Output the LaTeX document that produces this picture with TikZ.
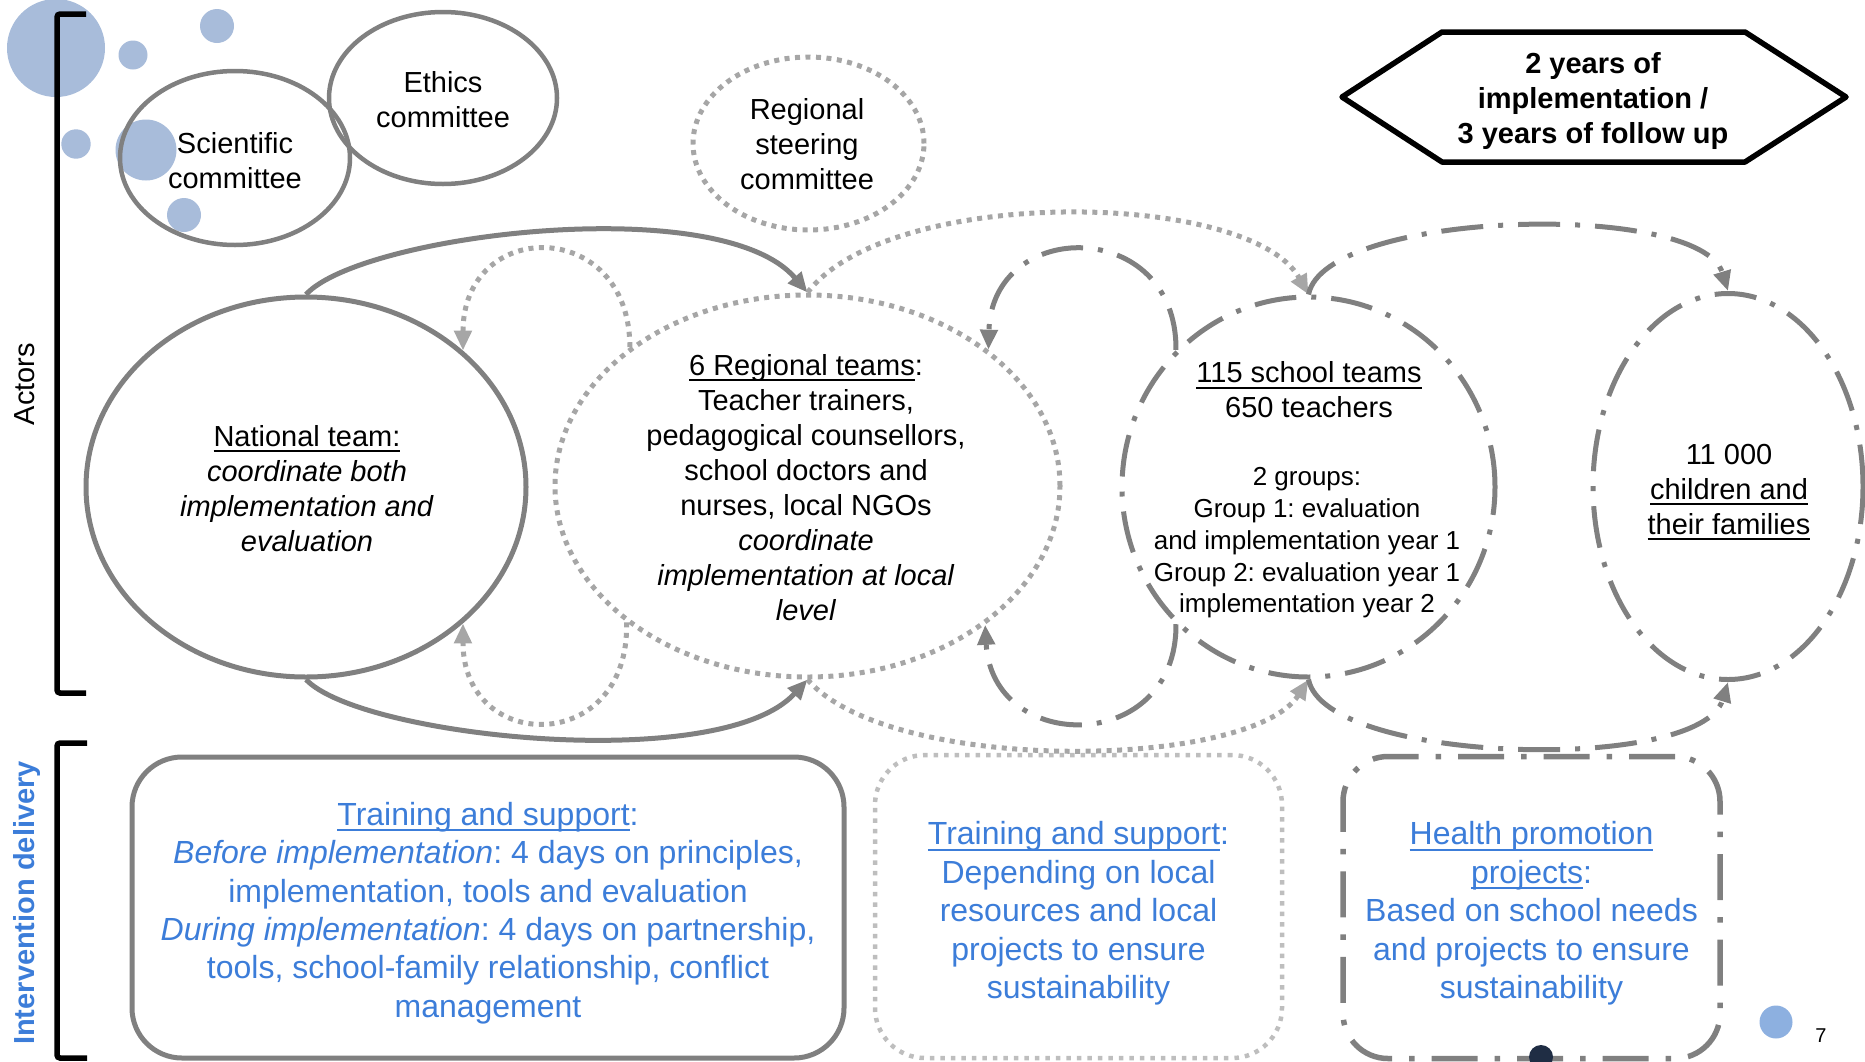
\documentclass[tikz,border=0pt]{standalone}
\usepackage{fontspec}
\setmainfont{Liberation Sans}
\usetikzlibrary{shapes.geometric,arrows.meta}
\frenchspacing

\definecolor{linegray}{RGB}{128,128,128}
\definecolor{dotgray}{RGB}{166,166,166}
\definecolor{paledot}{RGB}{190,190,190}
\definecolor{txtblue}{RGB}{60,125,217}
\definecolor{bubble}{RGB}{168,188,218}
\definecolor{bubbledeep}{RGB}{141,176,224}
\definecolor{navydot}{RGB}{31,45,68}

% underline sitting a few points below the baseline
\newcommand\ulx[1]{\setbox0\hbox{#1}\rlap{\rule[-6pt]{\wd0}{2pt}}\box0}

\tikzset{
  ring/.style={ellipse, inner sep=0pt},
  solidring/.style={ring, draw=linegray, line width=5pt},
  dotring/.style={ring, draw=dotgray, line width=5pt, dash pattern=on 5pt off 5.5pt},
  dashdotring/.style={ring, draw=linegray, line width=5pt, dash pattern=on 42pt off 15pt on 5pt off 15pt},
  txt/.style={align=center, inner sep=0pt, font=\fontsize{29}{35}\selectfont},
  smalltxt/.style={align=center, inner sep=0pt, font=\fontsize{26}{31.75}\selectfont},
  bluetxt/.style={align=center, inner sep=0pt, text=txtblue, font=\fontsize{32}{38.4}\selectfont},
  panel/.style={rectangle, inner sep=0pt, rounded corners=50pt},
  bracket/.style={line width=5.5pt, draw=black, rounded corners=3pt},
  tip/.style={-{Triangle[length=20pt,width=17pt]}},
  flowsolid/.style={tip, draw=linegray, line width=5pt},
  flowdot/.style={tip, draw=dotgray, line width=5pt, dash pattern=on 5pt off 5.5pt},
  flowdashdot/.style={tip, draw=linegray, line width=5pt, dash pattern=on 42pt off 15pt on 5pt off 15pt},
}

\begin{document}
\begin{tikzpicture}[x=1pt,y=-1pt]
\useasboundingbox (0,0) rectangle (1865,1061);

% decorative bubbles
\fill[bubble] (56,48) circle (49);
\fill[bubble] (133,55) circle (14.5);
\fill[bubble] (217,26) circle (17);
\fill[bubble] (76,144) circle (14.7);
\fill[bubble] (146,150) circle (30.5);
\fill[bubble] (184,215) circle (17);
\fill[bubbledeep] (1776,1022) circle (16.5);

% section brackets and their labels
\draw[bracket] (86,14) -- (57,14) -- (57,693) -- (86,693);
\draw[bracket] (87,743) -- (57,743) -- (57,1058) -- (87,1058);
\node[rotate=90, inner sep=0pt, font=\fontsize{29}{35}\selectfont] (actors) at (25,384) {Actors};
\node[rotate=90, inner sep=0pt, text=txtblue, font=\fontsize{29}{35}\selectfont\bfseries] (delivery) at (27.5,903) {Intervention delivery};

% committees
\node[solidring, line width=4.5pt, minimum width=230pt, minimum height=174pt] (sci) at (235,158) {};
\node[txt] (scitxt) at (235,161) {Scientific\\committee};
\node[solidring, line width=4.5pt, minimum width=228pt, minimum height=172pt] (eth) at (443,98) {};
\node[txt] (ethtxt) at (443,99.5) {Ethics\\committee};
\node[dotring, minimum width=231pt, minimum height=173pt] (rsc) at (808.5,143.5) {};
\node[txt] (rsctxt) at (807,144.5) {Regional\\steering\\committee};

% duration banner
\draw[line width=5.5pt, line join=round] (1342,97) -- (1442,32) -- (1745,32) -- (1846,97) -- (1745,162) -- (1442,162) -- cycle;
\node[txt, font=\fontsize{29}{35}\selectfont\bfseries] (span) at (1593,101) {2 years of\\implementation /\\3 years of follow up};

% actors
\node[solidring, minimum width=440pt, minimum height=380pt] (nat) at (306,487) {};
\node[txt] (nattxt) at (307,488.5) {\ulx{National team:}\\\textit{coordinate both}\\\textit{implementation and}\\\textit{evaluation}};

\node[dotring, minimum width=505pt, minimum height=382pt] (reg) at (807.5,486) {};
\node[txt] (regtxt) at (806,487.5) {\ulx{6 Regional teams}:\\Teacher trainers,\\pedagogical counsellors,\\school doctors and\\nurses, local NGOs\\\textit{coordinate}\\\textit{implementation at local}\\\textit{level}};

\node[dashdotring, minimum width=373pt, minimum height=380pt] (sch) at (1308.5,487) {};
\node[txt] (schhead) at (1309,390) {\ulx{115 school teams}\\650 teachers};
\node[smalltxt] (schgroups) at (1307,543) {2 groups:\\Group 1: evaluation\\and implementation year 1\\Group 2: evaluation year 1\\implementation year 2};

\node[dashdotring, minimum width=270pt, minimum height=386pt] (chi) at (1728,486.5) {};
\node[txt] (chitxt) at (1729,492) {11 000\\\ulx{children and}\\\ulx{their families}};

% flows between actors
\draw[flowsolid] (nat.north) .. controls (360,235) and (720,190) .. (reg.north);
\draw[flowsolid] (nat.south) .. controls (360,737) and (720,775) .. (reg.south);
\draw[flowdot] (reg.142.5) .. controls (630,217) and (463,217) .. (nat.41);
\draw[flowdot] (reg.217.5) .. controls (630,755) and (463,755) .. (nat.319);
\draw[flowdashdot] (sch.134) .. controls (1177,217) and (992,217) .. (reg.37.5);
\draw[flowdashdot] (sch.226) .. controls (1177,755) and (992,755) .. (reg.322.5);
\draw[flowdot] (reg.north) .. controls (890,185) and (1250,190) .. (sch.north);
\draw[flowdot] (reg.south) .. controls (890,775) and (1250,770) .. (sch.south);
\draw[flowdashdot] (sch.north) .. controls (1325,210) and (1700,200) .. (chi.north);
\draw[flowdashdot] (sch.south) .. controls (1325,764) and (1700,774) .. (chi.south);

% intervention delivery panels
\node[panel, draw=linegray, line width=5pt, minimum width=712pt, minimum height=301pt] (trainnat) at (488,907.5) {};
\node[bluetxt] (trainnattxt) at (488,913) {\ulx{Training and support}:\\\textit{Before implementation}: 4 days on principles,\\implementation, tools and evaluation\\\textit{During implementation}: 4 days on partnership,\\tools, school-family relationship, conflict\\management};

\node[panel, draw=paledot, line width=4.5pt, dash pattern=on 4.5pt off 6pt, minimum width=407pt, minimum height=303pt] (trainloc) at (1078.5,906.5) {};
\node[bluetxt] (trainloctxt) at (1078.5,913.5) {\ulx{Training and support}:\\Depending on local\\resources and local\\projects to ensure\\sustainability};

\node[panel, rounded corners=45pt, draw=linegray, line width=5.5pt, dash pattern=on 46pt off 17pt on 5.5pt off 17pt, minimum width=377pt, minimum height=302pt] (health) at (1531.5,907.5) {};
\node[bluetxt] (healthtxt) at (1531.5,913.5) {\ulx{Health promotion}\\\ulx{projects}:\\Based on school needs\\and projects to ensure\\sustainability};

% small dot resting on the lower panel edge, and the page number
\fill[navydot] (1541,1057) circle (12);
\node[inner sep=0pt, font=\fontsize{20}{24}\selectfont] (pageno) at (1821,1035.5) {7};
\end{tikzpicture}
\end{document}
